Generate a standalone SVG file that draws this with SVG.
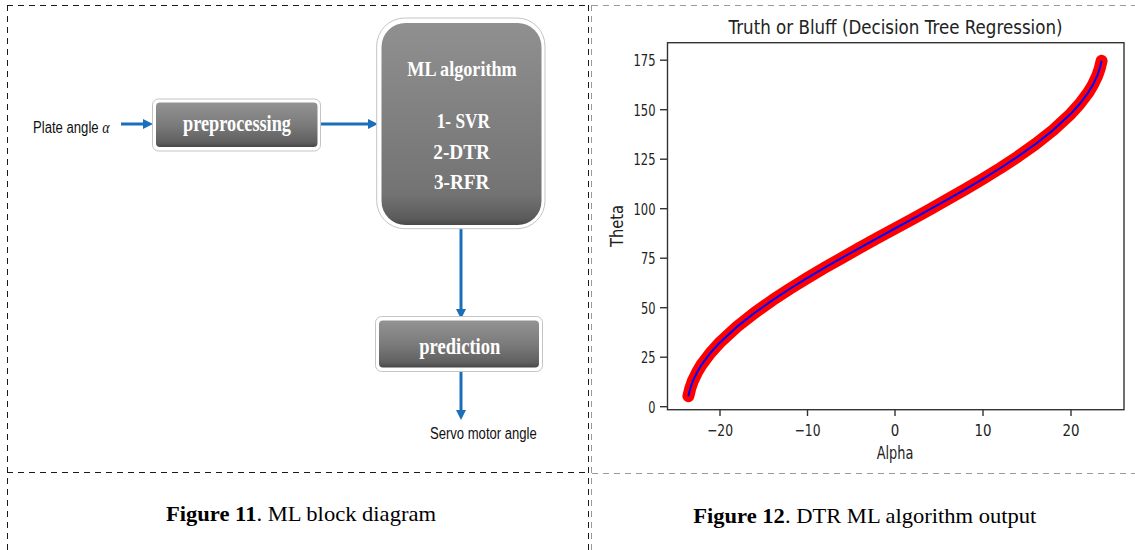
<svg xmlns="http://www.w3.org/2000/svg" width="1135" height="550" viewBox="0 0 1135 550">
<defs>
<style>
.dd{stroke:#1a1a1a;stroke-width:1;stroke-dasharray:6 5;fill:none}
.dl{stroke:#9a9a9a;stroke-width:1;stroke-dasharray:6 5;fill:none}
.conn{stroke:#1a6fba;stroke-width:3;fill:none}
.frame{fill:#fff;stroke:#c4c4c4;stroke-width:1}
.btxt{font-family:"Liberation Serif","Times New Roman",serif;font-weight:bold;fill:#fff}
.lbl{font-family:"Liberation Sans",Arial,sans-serif;font-size:16px;fill:#111}
.cap{font-family:"Liberation Serif","Times New Roman",serif;font-size:21px;fill:#000}
.pt{font-family:"DejaVu Sans",sans-serif;fill:#222}
.ax{stroke:#333;stroke-width:1.4;fill:none}
</style>
<linearGradient id="gs" x1="0" y1="0" x2="0" y2="1">
<stop offset="0" stop-color="#939393"/>
<stop offset="0.5" stop-color="#7b7b7b"/>
<stop offset="0.9" stop-color="#5f5f5f"/>
<stop offset="1" stop-color="#474747"/>
</linearGradient>
<linearGradient id="gt" x1="0" y1="0" x2="0" y2="1">
<stop offset="0" stop-color="#909090"/>
<stop offset="0.85" stop-color="#737373"/>
<stop offset="0.97" stop-color="#5a5a5a"/>
<stop offset="1" stop-color="#484848"/>
</linearGradient>
<marker id="ah" viewBox="0 0 10 10" refX="1" refY="5" markerWidth="10" markerHeight="10" markerUnits="userSpaceOnUse" orient="auto">
<path d="M0,0 L10,5 L0,10 z" fill="#1a6fba"/>
</marker>
</defs>
<rect width="1135" height="550" fill="#fff"/>

<g id="frame">
<line class="dd" x1="7" y1="5.5" x2="589" y2="5.5"/>
<line class="dd" x1="7.5" y1="5" x2="7.5" y2="550"/>
<line class="dd" x1="588.5" y1="5" x2="588.5" y2="550"/>
<line class="dd" x1="7" y1="472.5" x2="588" y2="472.5"/>
<line class="dl" x1="592" y1="5.5" x2="1135" y2="5.5"/>
<line class="dl" x1="591.5" y1="5" x2="591.5" y2="550"/>
<line class="dl" x1="592" y1="473.5" x2="1135" y2="473.5"/>
</g>

<g id="connectors">
<line class="conn" x1="121" y1="124" x2="144" y2="124" marker-end="url(#ah)"/>
<line class="conn" x1="321" y1="124" x2="369" y2="124" marker-end="url(#ah)"/>
<line class="conn" x1="461" y1="228" x2="461" y2="310" marker-end="url(#ah)"/>
<line class="conn" x1="461" y1="371" x2="461" y2="411" marker-end="url(#ah)"/>
</g>

<g id="input-label" transform="translate(33,132.5) scale(0.82,1)">
<text class="lbl" x="0" y="0">Plate angle <tspan font-family="Liberation Serif,serif" font-style="italic" font-size="17">α</tspan></text>
</g>

<g id="preprocessing">
<rect class="frame" x="152.5" y="99" width="168" height="52" rx="6"/>
<rect x="156" y="102.5" width="161.5" height="44.5" rx="4" fill="url(#gs)"/>
<text class="btxt" x="183" y="131" font-size="24" textLength="108" lengthAdjust="spacingAndGlyphs">preprocessing</text>
</g>

<g id="ml-algorithm">
<rect class="frame" x="376.7" y="18" width="168.3" height="210.7" rx="28"/>
<rect x="381.5" y="23" width="160" height="202" rx="24" fill="url(#gt)"/>
<text class="btxt" x="407.3" y="75.5" font-size="22" textLength="109.4" lengthAdjust="spacingAndGlyphs">ML algorithm</text>
<text class="btxt" x="436.7" y="128" font-size="22" textLength="53.3" lengthAdjust="spacingAndGlyphs">1- SVR</text>
<text class="btxt" x="433.3" y="158.7" font-size="22" textLength="56.7" lengthAdjust="spacingAndGlyphs">2-DTR</text>
<text class="btxt" x="434" y="188.7" font-size="22" textLength="55.3" lengthAdjust="spacingAndGlyphs">3-RFR</text>
</g>

<g id="prediction">
<rect class="frame" x="375.5" y="316.5" width="167" height="55" rx="6"/>
<rect x="379" y="320.5" width="160" height="47" rx="4" fill="url(#gs)"/>
<text class="btxt" x="419.3" y="353.5" font-size="24" textLength="81" lengthAdjust="spacingAndGlyphs">prediction</text>
</g>

<g id="output-label">
<text class="lbl" x="430" y="439" textLength="106.7" lengthAdjust="spacingAndGlyphs">Servo motor angle</text>
</g>

<g id="caption-11">
<text class="cap" x="166" y="521" textLength="270" lengthAdjust="spacingAndGlyphs"><tspan font-weight="bold">Figure 11</tspan>. ML block diagram</text>
</g>

<g id="chart">
<text class="pt" x="728.5" y="33.5" font-size="20" textLength="334" lengthAdjust="spacingAndGlyphs">Truth or Bluff (Decision Tree Regression)</text>
<path d="M688.4,396.2 L690.2,388.6 L692.8,381.1 L697.2,372.0 L701.6,364.7 L710.4,353.0 L719.2,343.2 L736.8,326.9 L754.4,313.0 L771.9,300.6 L789.5,289.0 L807.1,278.1 L824.7,267.7 L842.3,257.7 L859.8,247.8 L877.4,238.1 L895,228.5 L912.6,218.9 L930.2,209.2 L947.7,199.3 L965.3,189.3 L982.9,178.9 L1000.5,168.0 L1018.1,156.4 L1035.6,144.0 L1053.2,130.1 L1070.8,113.8 L1079.6,104.0 L1088.4,92.3 L1092.8,85.0 L1097.2,75.9 L1099.8,68.4 L1101.6,60.8" fill="none" stroke="#ff0000" stroke-width="12" stroke-linecap="round" stroke-linejoin="round"/>
<path d="M688.4,396.2 L690.2,388.6 L692.8,381.1 L697.2,372.0 L701.6,364.7 L710.4,353.0 L719.2,343.2 L736.8,326.9 L754.4,313.0 L771.9,300.6 L789.5,289.0 L807.1,278.1 L824.7,267.7 L842.3,257.7 L859.8,247.8 L877.4,238.1 L895,228.5 L912.6,218.9 L930.2,209.2 L947.7,199.3 L965.3,189.3 L982.9,178.9 L1000.5,168.0 L1018.1,156.4 L1035.6,144.0 L1053.2,130.1 L1070.8,113.8 L1079.6,104.0 L1088.4,92.3 L1092.8,85.0 L1097.2,75.9 L1099.8,68.4 L1101.6,60.8" fill="none" stroke="#0000ff" stroke-width="2" stroke-linejoin="round"/>
<rect class="ax" x="667.5" y="42.7" width="456.5" height="367"/>
<g class="ax">
<line x1="660" y1="406.7" x2="667.5" y2="406.7"/>
<line x1="660" y1="357.2" x2="667.5" y2="357.2"/>
<line x1="660" y1="307.7" x2="667.5" y2="307.7"/>
<line x1="660" y1="258.2" x2="667.5" y2="258.2"/>
<line x1="660" y1="208.7" x2="667.5" y2="208.7"/>
<line x1="660" y1="159.2" x2="667.5" y2="159.2"/>
<line x1="660" y1="109.7" x2="667.5" y2="109.7"/>
<line x1="660" y1="60.2" x2="667.5" y2="60.2"/>
<line x1="720" y1="409.7" x2="720" y2="416"/>
<line x1="807.5" y1="409.7" x2="807.5" y2="416"/>
<line x1="895" y1="409.7" x2="895" y2="416"/>
<line x1="983" y1="409.7" x2="983" y2="416"/>
<line x1="1071" y1="409.7" x2="1071" y2="416"/>
</g>
<g class="pt" font-size="16">
<text x="648.3" y="412.5" textLength="7.2" lengthAdjust="spacingAndGlyphs">0</text>
<text x="641" y="363" textLength="14.5" lengthAdjust="spacingAndGlyphs">25</text>
<text x="641" y="313.5" textLength="14.5" lengthAdjust="spacingAndGlyphs">50</text>
<text x="641" y="264" textLength="14.5" lengthAdjust="spacingAndGlyphs">75</text>
<text x="633.5" y="214.5" textLength="22" lengthAdjust="spacingAndGlyphs">100</text>
<text x="633.5" y="165" textLength="22" lengthAdjust="spacingAndGlyphs">125</text>
<text x="633.5" y="115.5" textLength="22" lengthAdjust="spacingAndGlyphs">150</text>
<text x="633.5" y="66" textLength="22" lengthAdjust="spacingAndGlyphs">175</text>
<text x="707" y="436" textLength="26" lengthAdjust="spacingAndGlyphs">−20</text>
<text x="794.5" y="436" textLength="26" lengthAdjust="spacingAndGlyphs">−10</text>
<text x="890.8" y="436" textLength="8.5" lengthAdjust="spacingAndGlyphs">0</text>
<text x="974.5" y="436" textLength="17" lengthAdjust="spacingAndGlyphs">10</text>
<text x="1062.5" y="436" textLength="17" lengthAdjust="spacingAndGlyphs">20</text>
</g>
<text class="pt" x="876.7" y="459" font-size="17" textLength="36.7" lengthAdjust="spacingAndGlyphs">Alpha</text>
<text class="pt" transform="translate(623,226) rotate(-90)" x="-21" y="0" font-size="17" textLength="42" lengthAdjust="spacingAndGlyphs">Theta</text>
</g>

<g id="caption-12">
<text class="cap" x="693.3" y="522.5" textLength="343" lengthAdjust="spacingAndGlyphs"><tspan font-weight="bold">Figure 12</tspan>. DTR ML algorithm output</text>
</g>
</svg>
